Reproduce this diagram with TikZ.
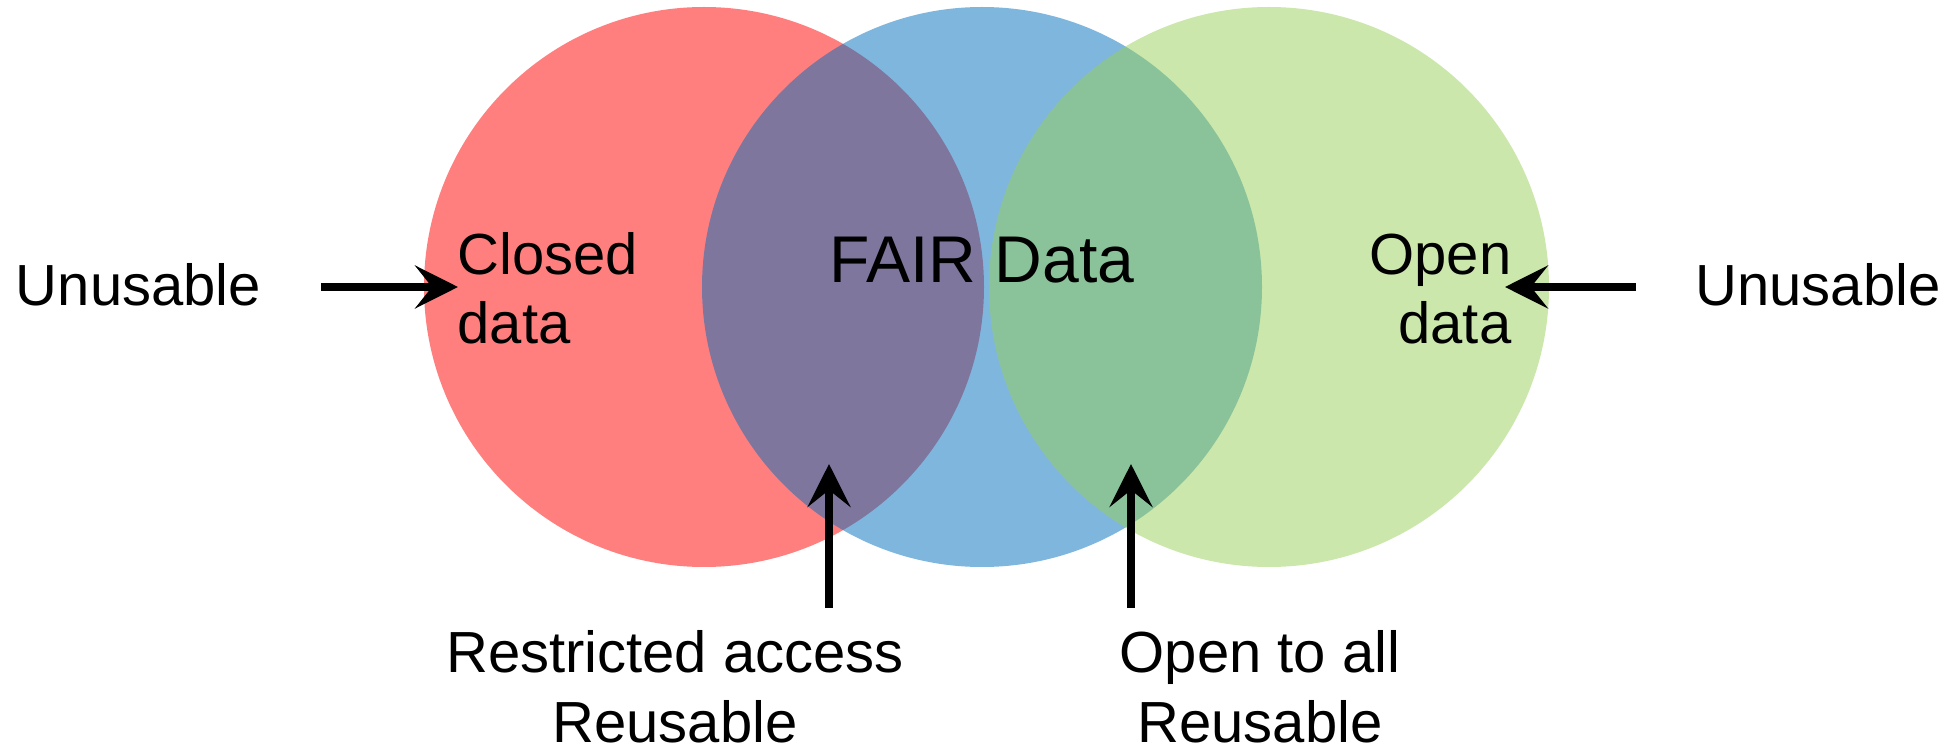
\documentclass[tikz,border=0pt]{standalone}
\usepackage{fontspec}
\setmainfont{Liberation Sans}
\usetikzlibrary{arrows.meta}
\definecolor{closedred}{RGB}{255,0,0}
\definecolor{fairblue}{RGB}{0,110,190}
\definecolor{opengreen}{RGB}{151,207,87}

\begin{document}
\begin{tikzpicture}[
  venn/.style={circle, minimum size=5.6cm, inner sep=0pt, fill opacity=0.5},
  txt/.style={font=\fontsize{16.5}{19.9}\selectfont, inner sep=0pt},
  pointer/.style={line width=2pt, -{Stealth[length=4.3mm, width=4.3mm, inset=1.7mm]}}
]
  \useasboundingbox (0,0) rectangle (19.59,7.5);

  % Three overlapping sets
  \node[venn, fill=closedred] (closed) at (7.04,4.63) {};
  \node[venn, fill=fairblue] (fair) at (9.82,4.63) {};
  \node[venn, fill=opengreen] (open) at (12.69,4.63) {};

  % Set labels (base = last line)
  \node[txt, anchor=base west, align=left] (closedtxt) at (4.57,4.06) {Closed\\data};
  \node[txt, anchor=base east, align=right] (opentxt) at (15.12,4.06) {Open\\data};
  \node[txt, anchor=base, font=\fontsize{18.8}{22}\selectfont] (fairtxt) at (9.82,4.67) {FAIR Data};

  % Outside labels
  \node[txt, anchor=base] (unleft) at (1.385,4.44) {Unusable};
  \node[txt, anchor=base] (unright) at (18.18,4.44) {Unusable};
  \node[txt, anchor=base, align=center] (restricted) at (6.75,0.08) {Restricted access\\Reusable};
  \node[txt, anchor=base, align=center] (opentoall) at (12.60,0.08) {Open to all\\Reusable};

  % Arrows
  \coordinate (lefttail) at (3.21,4.63);
  \coordinate (lefttip) at (4.58,4.63);
  \coordinate (righttail) at (16.36,4.63);
  \coordinate (righttip) at (15.05,4.63);
  \draw[pointer] (lefttail) -- (lefttip);
  \draw[pointer] (righttail) -- (righttip);

  \foreach \x/\n in {8.29/restr, 11.31/all} {
    \coordinate (\n tail) at (\x,1.42);
    \coordinate (\n tip) at (\x,2.86);
    \draw[pointer] (\n tail) -- (\n tip);
  }
\end{tikzpicture}
\end{document}
